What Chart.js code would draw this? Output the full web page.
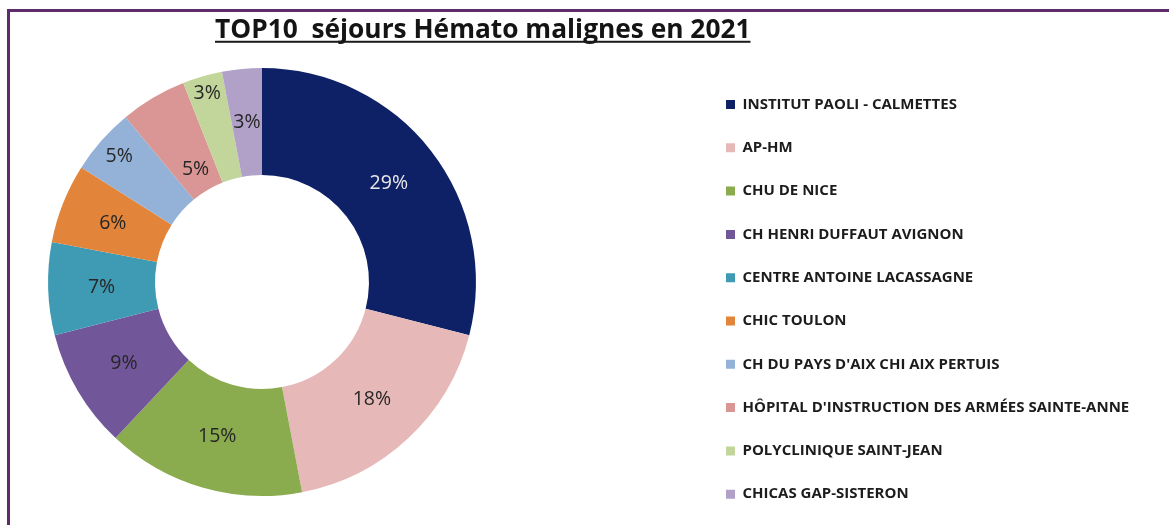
<!DOCTYPE html>
<html>
<head>
<meta charset="utf-8">
<script src="https://cdn.jsdelivr.net/npm/chart.js@4.4.1/dist/chart.umd.min.js"></script>
<style>
html,body{margin:0;padding:0;background:#fff;}
#wrap{position:relative;width:1169px;height:525px;overflow:hidden;background:#fff;}
#frame{position:absolute;left:7px;top:9px;width:1400px;height:800px;border-top:3px solid #5e2c6a;border-left:3px solid #5e2c6a;}
#c{position:absolute;top:0;}
</style>
</head>
<body>
<div id="wrap"><div id="frame"></div><canvas id="c"></canvas></div>
<script>
// ---- data ----
const chartTitle = 'TOP10  séjours Hémato malignes en 2021';
const categories = [
  'INSTITUT PAOLI - CALMETTES',
  'AP-HM',
  'CHU DE NICE',
  'CH HENRI DUFFAUT AVIGNON',
  'CENTRE ANTOINE LACASSAGNE',
  'CHIC TOULON',
  "CH DU PAYS D'AIX CHI AIX PERTUIS",
  "HÔPITAL D'INSTRUCTION DES ARMÉES SAINTE-ANNE",
  'POLYCLINIQUE SAINT-JEAN',
  'CHICAS GAP-SISTERON'
];
const shares = [29, 18, 15, 9, 7, 6, 5, 5, 3, 3];

// ---- styles ----
const sliceColors = ['#0e2166', '#e6b9b8', '#8aab4e', '#72569a', '#3f9ab3', '#e2853a', '#94b2d8', '#d99694', '#c2d69b', '#b1a0c8'];
const labelColors = ['#e9e9e9', '#262626', '#262626', '#262626', '#262626', '#262626', '#262626', '#262626', '#262626', '#262626'];
const labelRadialShift = [0, 0, 0, 0, 0, 0, 30, -30, 36, 0];

const FONT = '"Open Sans", Lato, sans-serif';
const legendFontSize = 15;
const legendBox = 9;
const rowStep = 43.3;
const legendPad = rowStep - legendFontSize;

// ---- layout targets (page pixels) ----
const pageW = 1169, pageH = 525;
const ringCenterX = 262;
const legendBoxX = 726;

// the canvas is shifted left so that the chart area can start left of the page
const X = Math.ceil(legendBoxX - legendPad - 2 * ringCenterX);
const canvasW = pageW + X;
const canvasH = 530;
const cv = document.getElementById('c');
cv.width = canvasW; cv.height = canvasH;
cv.style.left = (-X) + 'px';

// measure legend width the way Chart.js does
const mctx = document.createElement('canvas').getContext('2d');
mctx.font = 'bold ' + legendFontSize + 'px ' + FONT;
let maxText = 0;
categories.forEach(c => { maxText = Math.max(maxText, mctx.measureText(c).width); });
const legendWidth = legendPad + legendBox + legendFontSize / 2 + maxText + 10;
const legendLeft = legendBoxX + X - legendPad;
const padLeft = Math.max(0, 2 * (ringCenterX + X) - legendLeft);
const padRight = canvasW - legendLeft - legendWidth;

const pctLabels = {
  id: 'pctLabels',
  afterDatasetsDraw(chart, args, opts) {
    const meta = chart.getDatasetMeta(0);
    const ctx = chart.ctx;
    ctx.save();
    ctx.font = opts.font;
    ctx.textAlign = 'center';
    ctx.textBaseline = 'middle';
    meta.data.forEach((arc, i) => {
      const p = arc.getProps(['x', 'y', 'startAngle', 'endAngle', 'innerRadius', 'outerRadius'], true);
      const mid = (p.startAngle + p.endAngle) / 2;
      const r = (p.innerRadius + p.outerRadius) / 2 + (opts.shift[i] || 0);
      ctx.fillStyle = opts.colors[i];
      ctx.fillText(shares[i] + '%', p.x + Math.cos(mid) * r, p.y + Math.sin(mid) * r);
    });
    ctx.restore();
  }
};

const titleUnderline = {
  id: 'titleUnderline',
  afterDraw(chart, args, opts) {
    const t = chart.titleBlock;
    if (!t) return;
    const font = Chart.helpers.toFont(t.options.font);
    const ctx = chart.ctx;
    ctx.save();
    ctx.font = font.string;
    ctx.textBaseline = 'middle';
    const w = ctx.measureText(t.options.text).width;
    const desc = ctx.measureText('T').actualBoundingBoxDescent;
    const cx = (t.left + t.right) / 2;
    const cy = t.top + t._padding.top + font.lineHeight / 2;
    const base = cy + desc;
    ctx.fillStyle = opts.color;
    ctx.fillRect(cx - w / 2, base + opts.gap, w, opts.thickness);
    ctx.restore();
  }
};

new Chart(cv, {
  type: 'doughnut',
  data: {
    labels: categories,
    datasets: [{
      data: shares,
      backgroundColor: sliceColors,
      borderWidth: 0,
      hoverOffset: 0
    }]
  },
  options: {
    responsive: false,
    animation: false,
    events: [],
    cutout: '50%',
    layout: { padding: { left: padLeft, right: padRight, top: 0, bottom: 0 } },
    plugins: {
      title: {
        display: true,
        text: chartTitle,
        color: '#141414',
        font: { family: FONT, size: 26.3, weight: 'bold', lineHeight: 1.2 },
        padding: { top: 14.5, bottom: 22 }
      },
      subtitle: {
        display: true,
        position: 'bottom',
        text: '',
        font: { size: 10, lineHeight: 1 },
        padding: { top: 24, bottom: 0 }
      },
      legend: {
        display: true,
        position: 'right',
        align: 'end',
        fullSize: true,
        labels: {
          boxWidth: legendBox,
          boxHeight: legendBox,
          padding: legendPad,
          color: '#1c1c1c',
          font: { family: FONT, size: legendFontSize, weight: 'bold' }
        }
      },
      tooltip: { enabled: false },
      pctLabels: {
        font: '19.5px ' + FONT,
        colors: labelColors,
        shift: labelRadialShift
      },
      titleUnderline: { color: '#1a1a1a', gap: 3, thickness: 2 }
    }
  },
  plugins: [pctLabels, titleUnderline]
});
</script>
</body>
</html>
